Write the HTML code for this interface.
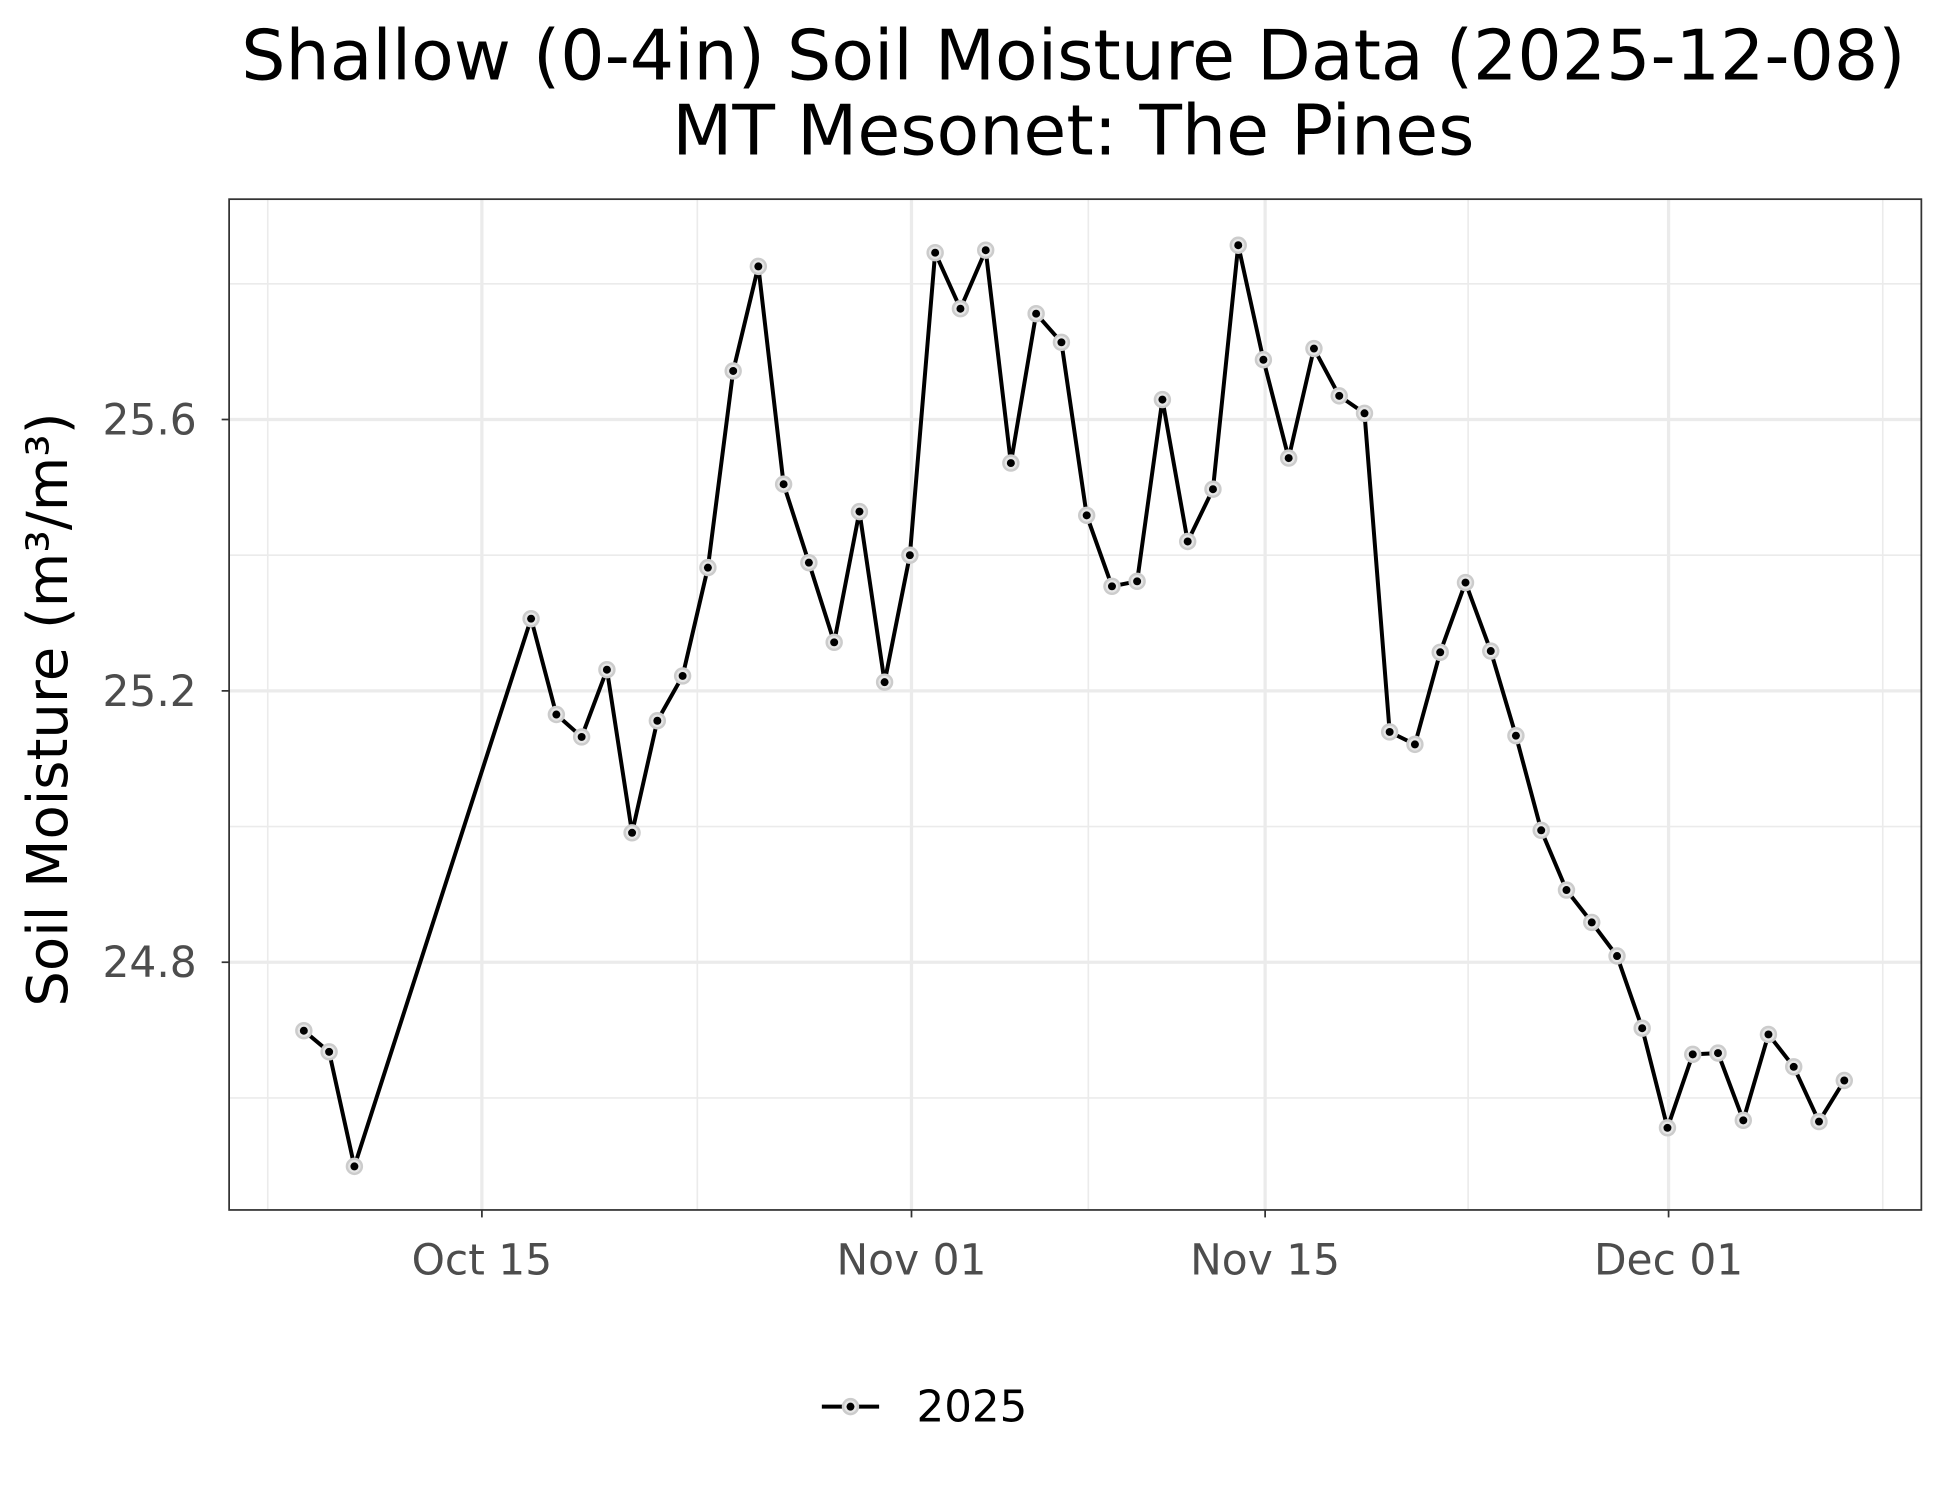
<!DOCTYPE html>
<html><head><meta charset="utf-8"><style>html,body{margin:0;padding:0;background:#fff}svg{display:block}</style></head>
<body>
<svg width="1950" height="1500" viewBox="0 0 1566 1205" preserveAspectRatio="none" xmlns="http://www.w3.org/2000/svg" font-family="'DejaVu Sans','Liberation Sans',sans-serif">
<defs>
<marker id="m" markerUnits="userSpaceOnUse" markerWidth="20" markerHeight="20" refX="10" refY="10" viewBox="0 0 20 20">
<circle cx="10" cy="10" r="6" fill="#e6e6e6" stroke="#ccc" stroke-width="2"/>
<circle cx="10" cy="10" r="3.2" fill="#000"/>
</marker>
</defs>
<rect width="1566" height="1205" fill="#fff"/>
<text x="862" y="64" font-size="56" text-anchor="middle" fill="#000">Shallow (0-4in) Soil Moisture Data (2025-12-08)</text>
<text x="862" y="124" font-size="56" text-anchor="middle" fill="#000">MT Mesonet: The Pines</text>
<g stroke="#ebebeb" stroke-width="1.3">
<line x1="184" x2="1543" y1="228" y2="228"/><line x1="184" x2="1543" y1="446" y2="446"/><line x1="184" x2="1543" y1="664" y2="664"/><line x1="184" x2="1543" y1="882" y2="882"/>
<line y1="160" y2="972" x1="215" x2="215"/><line y1="160" y2="972" x1="560" x2="560"/><line y1="160" y2="972" x1="874" x2="874"/><line y1="160" y2="972" x1="1179" x2="1179"/><line y1="160" y2="972" x1="1512" x2="1512"/>
</g>
<g stroke="#ebebeb" stroke-width="2.6">
<line x1="184" x2="1543" y1="337" y2="337"/><line x1="184" x2="1543" y1="555" y2="555"/><line x1="184" x2="1543" y1="773" y2="773"/>
<line y1="160" y2="972" x1="387" x2="387"/><line y1="160" y2="972" x1="732" x2="732"/><line y1="160" y2="972" x1="1016" x2="1016"/><line y1="160" y2="972" x1="1340" x2="1340"/>
</g>
<rect x="184" y="160" width="1359" height="812" fill="none" stroke="#333" stroke-width="1.4"/>
<g stroke="#333" stroke-width="1.4">
<line x1="178" x2="184" y1="337" y2="337"/><line x1="178" x2="184" y1="555" y2="555"/><line x1="178" x2="184" y1="773" y2="773"/>
<line y1="972" y2="978" x1="387" x2="387"/><line y1="972" y2="978" x1="732" x2="732"/><line y1="972" y2="978" x1="1016" x2="1016"/><line y1="972" y2="978" x1="1340" x2="1340"/>
</g>
<g font-size="34" fill="#4d4d4d">
<text x="158" y="349" text-anchor="end">25.6</text><text x="158" y="567" text-anchor="end">25.2</text><text x="158" y="785" text-anchor="end">24.8</text>
<text x="387" y="1024" text-anchor="middle">Oct 15</text><text x="732" y="1024" text-anchor="middle">Nov 01</text><text x="1016" y="1024" text-anchor="middle">Nov 15</text><text x="1340" y="1024" text-anchor="middle">Dec 01</text>
</g>
<text transform="translate(54,570) rotate(-90)" font-size="45" text-anchor="middle" fill="#000">Soil Moisture (m³/m³)</text>
<polyline fill="none" stroke="#000" stroke-width="3.2" stroke-linejoin="round" marker-start="url(#m)" marker-mid="url(#m)" marker-end="url(#m)" points="244,828 264.3,845 284.6,937 426.5,497 446.8,574 467.1,592 487.4,538 507.6,669 527.9,579 548.2,543 568.5,456 588.8,298 609,214 629.3,389 649.6,452 669.9,516 690.2,411 710.4,548 730.7,446 751,203 771.3,248 791.6,201 811.8,372 832.1,252 852.4,275 872.7,414 893,471 913.2,467 933.5,321 953.8,435 974.1,393 994.4,197 1014.6,289 1034.9,368 1055.2,280 1075.5,318 1095.8,332 1116,588 1136.3,598 1156.6,524 1176.9,468 1197.2,523 1217.4,591 1237.7,667 1258,715 1278.3,741 1298.6,768 1318.8,826 1339.1,906 1359.4,847 1379.7,846 1400,900 1420.2,831 1440.5,857 1460.8,901 1481.1,868"/>
<line x1="660" x2="706" y1="1130" y2="1130" stroke="#000" stroke-width="3.2"/>
<circle cx="683" cy="1130" r="6" fill="#e6e6e6" stroke="#ccc" stroke-width="2"/><circle cx="683" cy="1130" r="3.2" fill="#000"/>
<text x="736" y="1142" font-size="35" fill="#000">2025</text>
</svg>
</body></html>
